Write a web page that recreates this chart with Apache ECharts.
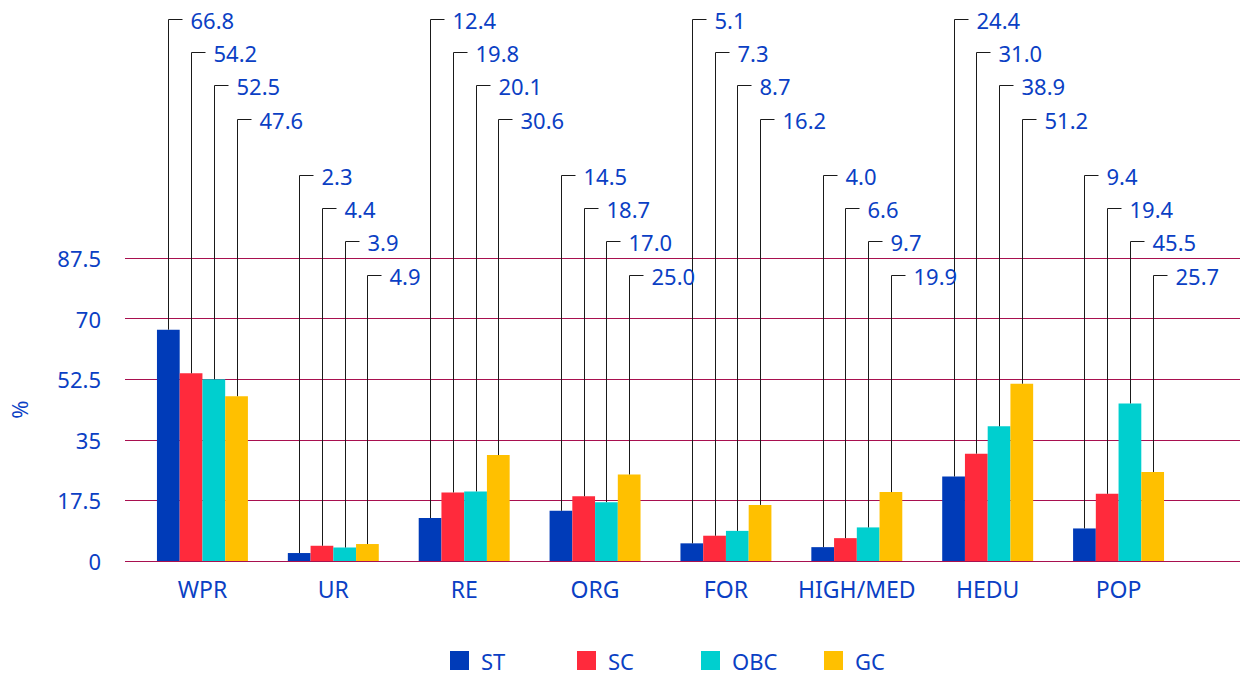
<!DOCTYPE html>
<html>
<head>
<meta charset="utf-8">
<script src="https://cdn.jsdelivr.net/npm/echarts@6/dist/echarts.min.js"></script>
<style>
  html, body { margin: 0; padding: 0; background: #ffffff; }
  #chart { width: 1240px; height: 675px; }
</style>
</head>
<body>
<div id="chart"></div>
<script>
// ---- data ----
const categories = ['WPR', 'UR', 'RE', 'ORG', 'FOR', 'HIGH/MED', 'HEDU', 'POP'];
const seriesNames = ['ST', 'SC', 'OBC', 'GC'];
const stValues  = [66.8, 2.3, 12.4, 14.5, 5.1, 4.0, 24.4, 9.4];
const scValues  = [54.2, 4.4, 19.8, 18.7, 7.3, 6.6, 31.0, 19.4];
const obcValues = [52.5, 3.9, 20.1, 17.0, 8.7, 9.7, 38.9, 45.5];
const gcValues  = [47.6, 4.9, 30.6, 25.0, 16.2, 19.9, 51.2, 25.7];
const yTicks = [0, 17.5, 35, 52.5, 70, 87.5];

// ---- style / layout ----
const colors = ['#003bb8', '#ff2a3c', '#00cfcf', '#ffc000'];
const textBlue = '#0b3fc4';
const gridLineColor = '#a8104f';
const FONT = 'Noto Sans';
const CAT_GAP = 0.305;
// label leader heights (pixels from top), odd groups and even groups
const labelLevels = [18.5, 52, 85, 118.5, 174.5, 208, 241, 274.5];

const allValues = [stValues, scValues, obcValues, gcValues];

const chart = echarts.init(document.getElementById('chart'), null, { renderer: 'svg' });

const barSeries = allValues.map((vals, s) => ({
  name: seriesNames[s],
  type: 'bar',
  xAxisIndex: 1,
  yAxisIndex: 1,
  data: vals,
  barGap: '0%',
  barCategoryGap: (CAT_GAP * 100) + '%',
  itemStyle: { color: colors[s] },
  z: 3
}));

const leaderSeries = allValues.map((vals, s) => ({
  name: seriesNames[s] + '-labels',
  type: 'custom',
  xAxisIndex: 1,
  yAxisIndex: 1,
  silent: true,
  z: 4,
  data: vals.map((v, i) => [i, v]),
  renderItem: function (params, api) {
    const ci = api.value(0);
    const v = api.value(1);
    const pt = api.coord([ci, v]);
    const band = api.size([1, 0])[0];
    const barW = band * (1 - CAT_GAP) / 4;
    const x = Math.round(pt[0] + (s - 1.5) * barW) + 0.5;
    const yTop = Math.round(labelLevels[(ci % 2) * 4 + s]) + 0.5;
    return {
      type: 'group',
      children: [
        { type: 'line', shape: { x1: x, y1: pt[1], x2: x, y2: yTop },
          style: { stroke: '#1a1a1a', lineWidth: 1 } },
        { type: 'line', shape: { x1: x, y1: yTop, x2: x + 14, y2: yTop },
          style: { stroke: '#1a1a1a', lineWidth: 1 } },
        { type: 'text', x: x + 22, y: yTop,
          style: { text: v.toFixed(1), fill: textBlue, font: '22px "' + FONT + '"',
                   textAlign: 'left', textVerticalAlign: 'middle' } }
      ]
    };
  }
}));

const legends = seriesNames.map((n, s) => ({
  data: [n],
  left: [450, 577, 701, 824][s],
  top: 647.5,
  padding: 0,
  itemWidth: 19,
  itemHeight: 19,
  icon: 'rect',
  textStyle: { color: textBlue, fontSize: 22, fontFamily: FONT, lineHeight: 26, padding: [0, 0, 0, 7] }
}));

const option = {
  backgroundColor: '#ffffff',
  animation: false,
  textStyle: { fontFamily: FONT },
  legend: legends,
  grid: [
    { left: 112, right: 0, top: 258, bottom: 114 },
    { left: 137, right: 56, top: 258, bottom: 114 }
  ],
  xAxis: [
    { type: 'category', gridIndex: 0, data: categories, show: false },
    {
      type: 'category', gridIndex: 1, data: categories,
      axisLine: { show: false }, axisTick: { show: false },
      axisLabel: { color: textBlue, fontSize: 23, fontFamily: FONT, margin: 16, interval: 0 }
    }
  ],
  yAxis: [
    {
      type: 'value', gridIndex: 0, min: yTicks[0], max: yTicks[yTicks.length - 1],
      interval: yTicks[1] - yTicks[0],
      name: '%', nameLocation: 'middle', nameRotate: 90, nameGap: 95,
      nameTextStyle: { color: textBlue, fontSize: 22, fontFamily: FONT },
      axisLine: { show: false }, axisTick: { show: false },
      axisLabel: { color: textBlue, fontSize: 22, fontFamily: FONT, margin: 24 },
      splitLine: { show: true, lineStyle: { color: gridLineColor, width: 1 } }
    },
    {
      type: 'value', gridIndex: 1, min: yTicks[0], max: yTicks[yTicks.length - 1],
      interval: yTicks[1] - yTicks[0],
      show: false, splitLine: { show: false }
    }
  ],
  series: barSeries.concat(leaderSeries)
};

chart.setOption(option);
</script>
</body>
</html>
